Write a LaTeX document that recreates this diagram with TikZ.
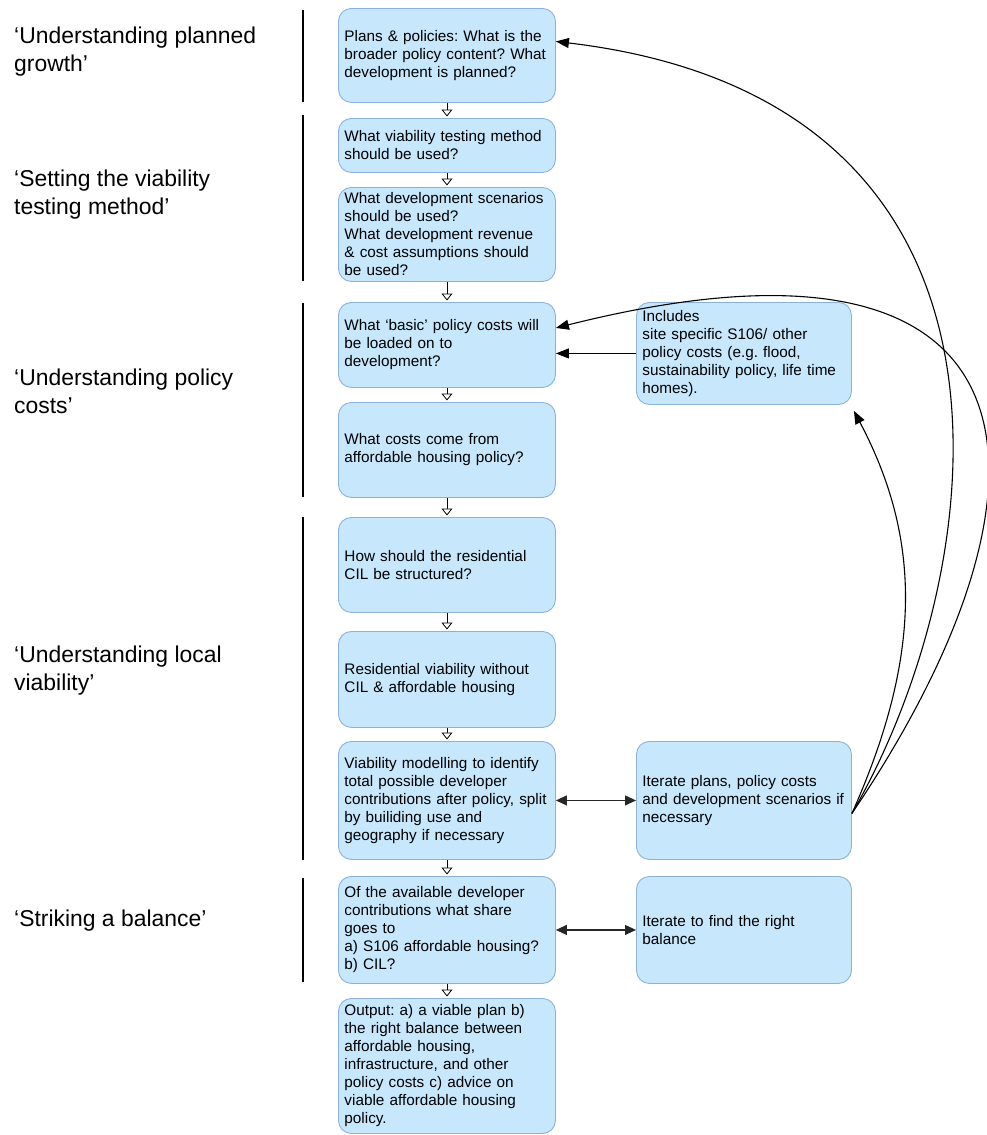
\documentclass[tikz,border=0pt]{standalone}
\usepackage{fontspec}
\setmainfont{Liberation Sans}
\usetikzlibrary{arrows.meta}
\definecolor{boxfill}{RGB}{198,231,252}
\definecolor{boxline}{RGB}{140,178,220}
\frenchspacing
\begin{document}
\begin{tikzpicture}[x=1pt,y=-1pt,
    box/.style={draw=boxline,fill=boxfill,line width=0.9pt,rounded corners=13pt,anchor=north west,
      text width=207pt,inner xsep=6pt,inner ysep=2pt,align=left,font=\fontsize{15.3}{18}\selectfont},
    phase/.style={anchor=west,align=left,inner sep=0pt,font=\fontsize{22.9}{28}\selectfont},
    flowarrow/.style={-{Triangle[open,length=7pt,width=11pt]},line width=0.8pt,shorten >=1.5pt},
    backarrow/.style={-{Triangle[length=13pt,width=10pt]},line width=1.1pt},
    twoway/.style={{Triangle[length=11pt,width=10pt]}-{Triangle[length=11pt,width=10pt]},line width=1.1pt,draw=black!85}]
  \useasboundingbox (0,0) rectangle (987,1135);
  \node[phase] (growth) at (14,52) {‘Understanding planned\\growth’};
  \node[phase] (method) at (14,195) {‘Setting the viability\\testing method’};
  \node[phase] (costs) at (14,391) {‘Understanding policy\\costs’};
  \node[phase] (local) at (14,671) {‘Understanding local\\viability’};
  \node[phase] (balance) at (14,921) {‘Striking a balance’};
  \foreach \t/\b in {10/102,115/281,303/497,517/860,878/982}
    \draw[line width=2pt] (303,\t) -- (303,\b);
  \node[box,minimum height=94pt,text width=205pt] (plans) at (338,8) {Plans \& policies: What is the\\broader policy content? What\\development is planned?};
  \node[box,minimum height=54pt,text width=205pt] (testing) at (338,118) {What viability testing method\\should be used?};
  \node[box,minimum height=94pt,text width=205pt] (scen) at (338,187) {What development scenarios\\should be used?\\What development revenue\\\& cost assumptions should\\be used?};
  \node[box,minimum height=85pt,text width=205pt] (basic) at (338,302) {What ‘basic’ policy costs will\\be loaded on to\\development?};
  \node[box,minimum height=95pt,text width=205pt] (afford) at (338,402) {What costs come from\\affordable housing policy?};
  \node[box,minimum height=95pt,text width=205pt] (cilstr) at (338,517) {How should the residential\\CIL be structured?};
  \node[box,minimum height=96pt,text width=205pt] (resvia) at (338,631) {Residential viability without\\CIL \& affordable housing};
  \node[box,minimum height=118pt,text width=205pt] (model) at (338,741) {Viability modelling to identify\\total possible developer\\contributions after policy, split\\by builiding use and\\geography if necessary};
  \node[box,minimum height=107pt,text width=205pt] (share) at (338,876) {Of the available developer\\contributions what share\\goes to\\a) S106 affordable housing?\\b) CIL?};
  \node[box,minimum height=135pt,text width=205pt] (output) at (338,998) {Output: a) a viable plan b)\\the right balance between\\affordable housing,\\infrastructure, and other\\policy costs c) advice on\\viable affordable housing\\policy.};
  \node[box,minimum height=102pt,text width=203pt] (includes) at (636,302) {Includes\\site specific S106/ other\\policy costs (e.g. flood,\\sustainability policy, life time\\homes).};
  \node[box,minimum height=118pt,text width=203pt] (iterplan) at (636,741) {Iterate plans, policy costs\\and development scenarios if\\necessary};
  \node[box,minimum height=107pt,text width=203pt] (iterbal) at (636,876) {Iterate to find the right\\balance};
  \foreach \a/\b in {plans/testing,testing/scen,scen/basic,basic/afford,afford/cilstr,cilstr/resvia,resvia/model,model/share,share/output}
    \draw[flowarrow] (\a.south) -- (\b.north);
  \draw[twoway] (model.east) -- (iterplan.west);
  \draw[twoway] (share.east) -- (iterbal.west);
  \draw[backarrow] (includes.west) -- (includes.west -| basic.east);
  \coordinate (fan) at ([yshift=-13pt]iterplan.east);
  \coordinate (inctip) at ([shift={(2pt,-6pt)}]includes.south east);
  \draw[backarrow] (fan) .. controls (990,575) and (1059,101) .. ([yshift=14pt]plans.east);
  \draw[backarrow] (fan) .. controls (1074,485) and (1057,202) .. ([yshift=17pt]basic.east);
  \draw[backarrow] (fan) .. controls (923,654) and (921,538) .. (inctip);
\end{tikzpicture}
\end{document}
